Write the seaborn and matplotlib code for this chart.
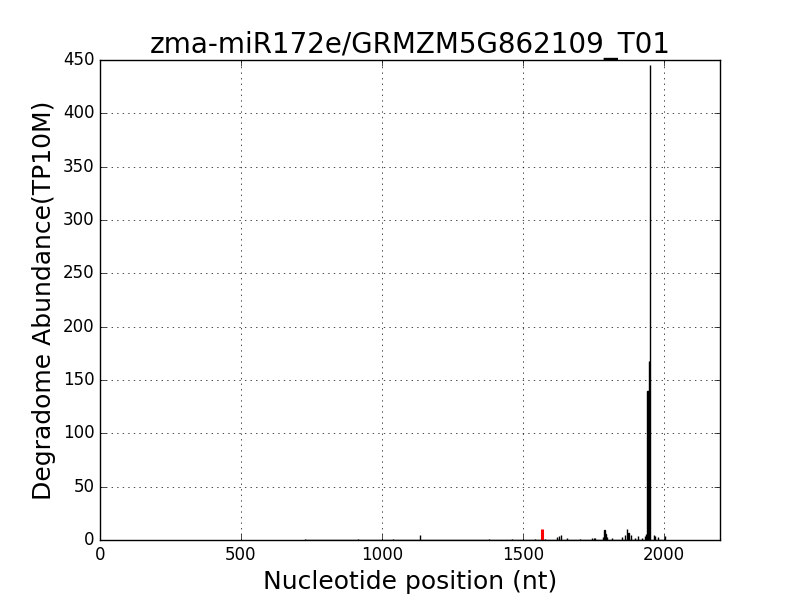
import numpy as np
import pandas as pd
import matplotlib
matplotlib.use("Agg")
import matplotlib.pyplot as plt
import seaborn as sns

# Degradome reads (position in nt, abundance TP10M)
positions = [727, 916, 1040, 1136, 1381, 1461, 1544, 1579, 1622, 1628, 1636,
             1656, 1703, 1746, 1752, 1756, 1785, 1790, 1794, 1798, 1816,
             1852, 1863, 1869, 1875, 1883, 1898, 1909, 1922, 1934, 1938,
             1941, 1943, 1944, 1946, 1948, 1951, 1966, 1970, 1980, 2005]
abundance = [1, 1, 0.7, 5, 1, 0.5, 1, 0.5, 3, 4, 5,
             1.5, 0.5, 2, 1.5, 2, 3, 9, 6, 3, 1.5,
             3, 5, 10, 7, 5, 2, 4, 2, 4, 6,
             5, 140, 139, 140, 168, 445, 5, 4, 3, 4]
# miRNA cleavage site
target_pos = [1568]
target_abund = [10]

title = "zma-miR172e/GRMZM5G862109_T01"

plt.style.use("classic")
fig, ax = plt.subplots(figsize=(8, 6), dpi=100)
fig.subplots_adjust(left=0.125, right=0.9, bottom=0.1, top=0.9)

df = pd.DataFrame({"pos": positions, "abund": abundance})
dt = pd.DataFrame({"pos": target_pos, "abund": target_abund})

sns.histplot(data=df, x="pos", weights="abund", discrete=True, ax=ax,
             color="black", edgecolor="black", linewidth=1.0, alpha=1)
sns.histplot(data=dt, x="pos", weights="abund", discrete=True, ax=ax,
             color="red", edgecolor="red", linewidth=2.2, alpha=1)

ax.set_xlim(0, 2200)
ax.set_ylim(0, 450)
ax.set_xticks(np.arange(0, 2001, 500))
ax.set_yticks(np.arange(0, 451, 50))
ax.grid(True, color="black", linestyle=":", linewidth=0.5)
ax.set_axisbelow(True)
ax.tick_params(labelsize=12)
ax.set_title(title, fontsize=20)
ax.set_xlabel("Nucleotide position (nt)", fontsize=18)
ax.set_ylabel("Degradome Abundance(TP10M)", fontsize=18)

fig.savefig("out.png", dpi=100)
